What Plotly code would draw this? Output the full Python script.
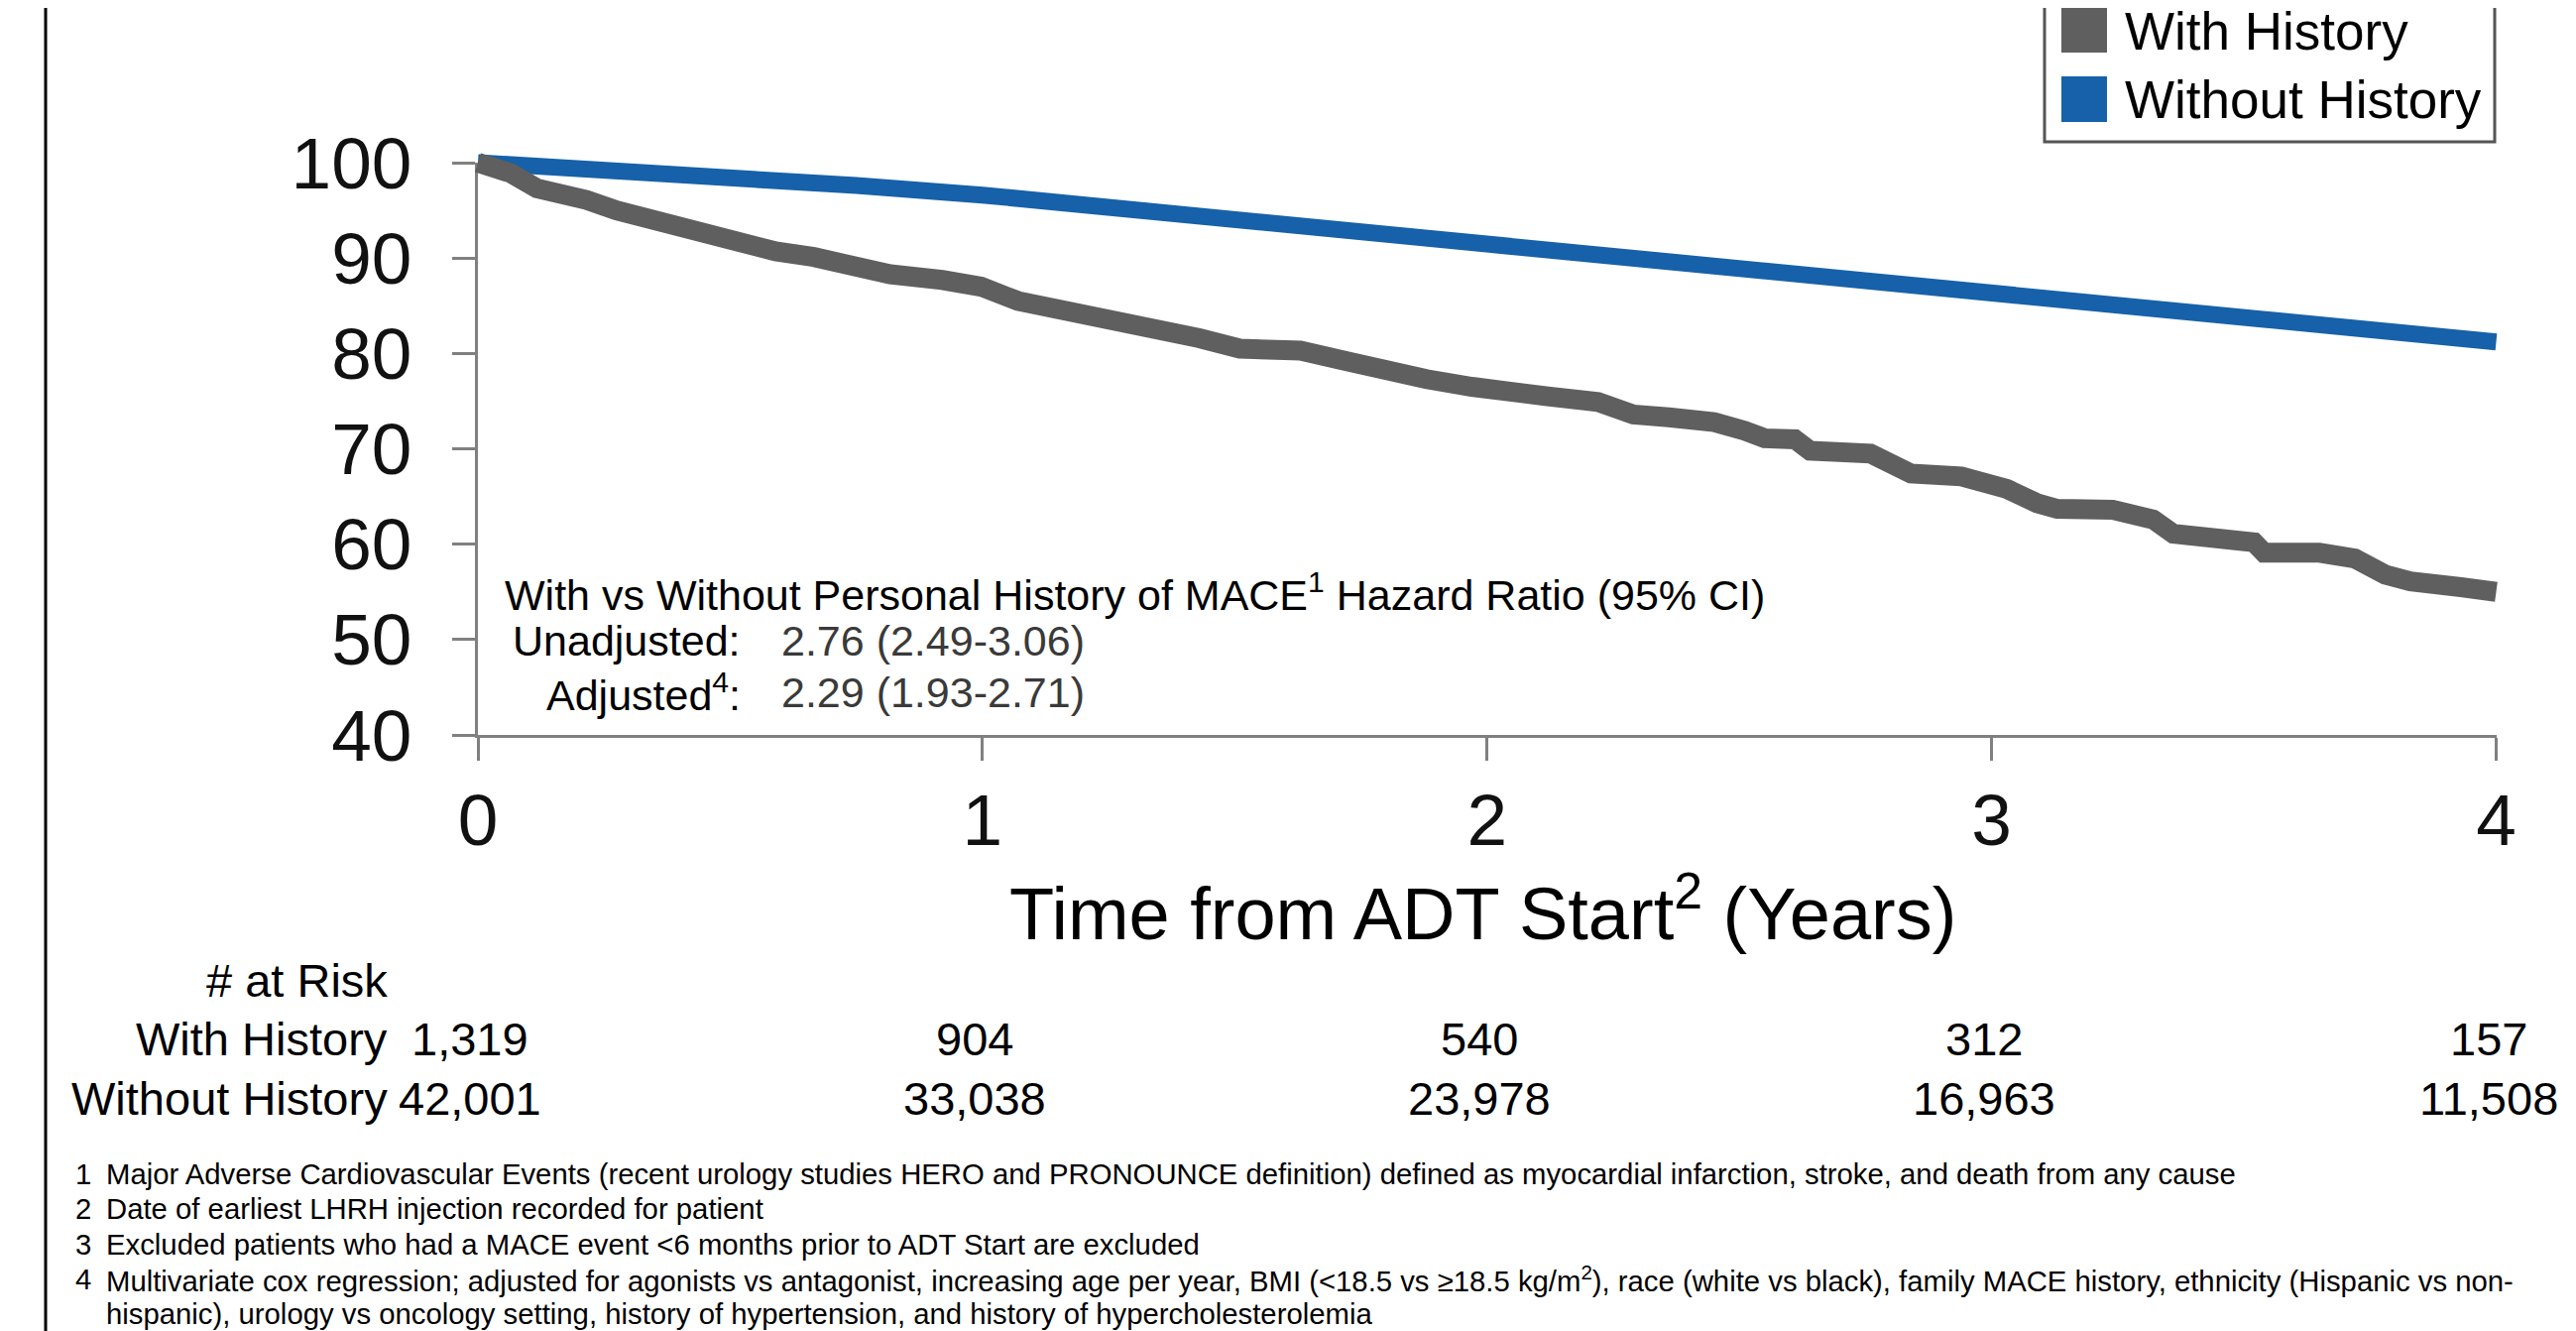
import plotly.graph_objects as go

# ---------------- data ----------------
years_with = [0.00, 0.03, 0.065, 0.117, 0.16, 0.215, 0.275, 0.335, 0.395, 0.456, 0.516, 0.59,
              0.666, 0.741, 0.817, 0.92, 0.997, 1.07, 1.16, 1.25, 1.34, 1.43, 1.51, 1.63,
              1.72, 1.79, 1.88, 1.97, 2.01, 2.04, 2.12, 2.22, 2.29, 2.36, 2.45, 2.51, 2.55,
              2.61, 2.64, 2.76, 2.79, 2.84, 2.94, 2.98, 3.03, 3.09, 3.13, 3.24, 3.32, 3.36,
              3.45, 3.52, 3.54, 3.65, 3.72, 3.78, 3.83, 3.90, 3.93, 4.00]
surv_with = [100.0, 99.4, 98.9, 97.3, 97.0, 96.1, 95.0, 94.2, 93.1, 92.6, 91.8, 90.7,
             90.1, 89.0, 88.3, 87.7, 87.0, 85.5, 84.6, 83.8, 82.7, 81.6, 80.5, 80.3,
             79.2, 78.2, 77.3, 76.5, 76.2, 75.6, 75.5, 74.9, 73.6, 73.3, 72.8, 71.9, 71.1,
             71.0, 69.8, 69.5, 68.9, 67.4, 67.1, 66.5, 65.8, 64.3, 63.7, 63.6, 62.6, 61.1,
             60.4, 60.2, 59.1, 59.1, 58.5, 56.8, 56.1, 56.0, 55.5, 55.0]

years_without = [0.0, 0.25, 0.5, 0.75, 1.0, 1.25, 1.5, 1.75, 2.0, 2.25, 2.5, 2.75, 3.0,
                 3.25, 3.5, 3.75, 4.0]
surv_without = [100.0, 99.3, 98.4, 97.6, 96.6, 95.3, 94.0, 92.9, 91.7, 90.4, 89.1, 87.8,
                86.4, 85.1, 83.8, 82.5, 81.2]

series_names = ["With History", "Without History"]
risk_times = [0, 1, 2, 3, 4]
risk_with = ["1,319", "904", "540", "312", "157"]
risk_without = ["42,001", "33,038", "23,978", "16,963", "11,508"]
x_ticks = [0, 1, 2, 3, 4]
y_ticks = [40, 50, 60, 70, 80, 90, 100]

hr_title = "With vs Without Personal History of MACE<sup>1</sup> Hazard Ratio (95% CI)"
hr_labels = ["Unadjusted:", "Adjusted<sup>4</sup>:"]
hr_values = ["2.76 (2.49-3.06)", "2.29 (1.93-2.71)"]

footnote_nums = ["1", "2", "3", "4", ""]
footnote_texts = [
    "Major Adverse Cardiovascular Events (recent urology studies HERO and PRONOUNCE definition) defined as myocardial infarction, stroke, and death from any cause",
    "Date of earliest LHRH injection recorded for patient",
    "Excluded patients who had a MACE event <6 months prior to ADT Start are excluded",
    "Multivariate cox regression; adjusted for agonists vs antagonist, increasing age per year, BMI (<18.5 vs \u226518.5 kg/m<sup>2</sup>), race (white vs black), family MACE history, ethnicity (Hispanic vs non-",
    "hispanic), urology vs oncology setting, history of hypertension, and history of hypercholesterolemia",
]

# ---------------- style / layout ----------------
PAGE_W, PAGE_H = 2598, 1342
OFF = 8                       # default page body margin
W, H = PAGE_W - OFF, PAGE_H - OFF
FONT = "Liberation Sans, Arial, Helvetica, sans-serif"
GRAY = "#5f5f5f"
BLUE = "#1661a9"
AXIS = "#808080"

X0_PX, X4_PX = 482.0, 2517.5   # page pixel x of year 0 and year 4
YT_PX, YB_PX = 164.0, 741.0    # page pixel y of 100 and 40
PAD = 30.0                     # extra room for the thick lines


def px(x):
    return (x - OFF) / W


def py(y):
    return 1 - (y - OFF) / H


x_per = (X4_PX - X0_PX) / (x_ticks[-1] - x_ticks[0])
y_per = (YB_PX - YT_PX) / (y_ticks[-1] - y_ticks[0])

fig = go.Figure()

# data traces on an invisible, slightly larger subplot with identical scaling
fig.add_trace(go.Scatter(x=years_without, y=surv_without, mode="lines", name=series_names[1],
                         line=dict(color=BLUE, width=17), xaxis="x2", yaxis="y2",
                         showlegend=False))
fig.add_trace(go.Scatter(x=years_with, y=surv_with, mode="lines", name=series_names[0],
                         line=dict(color=GRAY, width=20), xaxis="x2", yaxis="y2",
                         showlegend=False))

tickfont = dict(family=FONT, size=73, color="#111111")

fig.update_layout(
    template="none",
    width=W, height=H, autosize=False,
    margin=dict(l=0, r=0, t=0, b=0, pad=0),
    paper_bgcolor="white", plot_bgcolor="rgba(0,0,0,0)",
    font=dict(family=FONT, color="black"),
    showlegend=False,
    xaxis=dict(domain=[px(X0_PX), px(X4_PX)], range=[x_ticks[0], x_ticks[-1]],
               tickvals=x_ticks, ticks="outside", ticklen=23, tickwidth=2.5, tickcolor=AXIS,
               showline=True, linecolor=AXIS, linewidth=3, showgrid=False, zeroline=False,
               tickfont=tickfont, ticklabelstandoff=-3, anchor="y", fixedrange=True,
               automargin=False),
    yaxis=dict(domain=[py(YB_PX), py(YT_PX)], range=[y_ticks[0], y_ticks[-1]],
               tickvals=y_ticks, ticks="outside", ticklen=23, tickwidth=2.5, tickcolor=AXIS,
               showline=True, linecolor=AXIS, linewidth=3, showgrid=False, zeroline=False,
               tickfont=tickfont, ticklabelstandoff=26, anchor="x", fixedrange=True,
               automargin=False),
    xaxis2=dict(domain=[px(X0_PX - PAD), px(X4_PX + PAD)],
                range=[x_ticks[0] - PAD / x_per, x_ticks[-1] + PAD / x_per],
                visible=False, anchor="y2", fixedrange=True, automargin=False),
    yaxis2=dict(domain=[py(YB_PX + PAD), py(YT_PX - PAD)],
                range=[y_ticks[0] - PAD / y_per, y_ticks[-1] + PAD / y_per],
                visible=False, anchor="x2", fixedrange=True, automargin=False),
)

ann = []
# axis title
ann.append(dict(text="Time from ADT Start<sup>2</sup> (Years)", x=px(1495), y=py(916),
                xref="paper", yref="paper", xanchor="center", yanchor="middle",
                showarrow=False, font=dict(size=74, family=FONT, color="black")))

# hazard ratio block
HR_FONT = 43
ann.append(dict(text=hr_title, x=px(507), y=py(597), xref="paper", yref="paper",
                xanchor="left", yanchor="middle", showarrow=False,
                font=dict(size=HR_FONT, family=FONT, color="black")))
for i, (lab, val) in enumerate(zip(hr_labels, hr_values)):
    yy = [646, 698][i]
    ann.append(dict(text=lab, x=px(749), y=py(yy), xref="paper", yref="paper",
                    xanchor="right", yanchor="middle", showarrow=False,
                    font=dict(size=HR_FONT, family=FONT, color="black")))
    ann.append(dict(text=val, x=px(786), y=py(yy), xref="paper", yref="paper",
                    xanchor="left", yanchor="middle", showarrow=False,
                    font=dict(size=HR_FONT, family=FONT, color="#3a3a3a")))

# number at risk table
RISK_FONT = dict(size=47, family=FONT, color="black")
ann.append(dict(text="# at Risk", x=px(393), y=py(988), xref="paper", yref="paper",
                xanchor="right", yanchor="middle", showarrow=False, font=RISK_FONT))
for name, vals, yy in [(series_names[0], risk_with, 1047), (series_names[1], risk_without, 1107)]:
    ann.append(dict(text=name, x=px(393), y=py(yy), xref="paper", yref="paper",
                    xanchor="right", yanchor="middle", showarrow=False, font=RISK_FONT))
    for t, v in zip(risk_times, vals):
        ann.append(dict(text=v, x=t, y=py(yy), xref="x", yref="paper",
                        xanchor="center", yanchor="middle", showarrow=False, font=RISK_FONT,
                        xshift=-8))

# footnotes
FN_FONT = dict(size=29.3, family=FONT, color="black")
fn_y = [1183, 1218, 1254, 1289, 1324]
for n, t, yy in zip(footnote_nums, footnote_texts, fn_y):
    if n:
        ann.append(dict(text=n, x=px(84), y=py(yy), xref="paper", yref="paper",
                        xanchor="center", yanchor="middle", showarrow=False, font=FN_FONT))
    ann.append(dict(text=t, x=px(105), y=py(yy), xref="paper", yref="paper",
                    xanchor="left", yanchor="middle", showarrow=False, font=FN_FONT))

# legend (drawn manually to get the large square keys)
LEG_FONT = dict(size=53, family=FONT, color="black")
for name, col, yy in [(series_names[0], GRAY, 31), (series_names[1], BLUE, 100)]:
    ann.append(dict(text=name, x=px(2141), y=py(yy), xref="paper", yref="paper",
                    xanchor="left", yanchor="middle", showarrow=False, font=LEG_FONT))

shapes = []
shapes.append(dict(type="rect", xref="paper", yref="paper", x0=px(2062), x1=px(2516),
                   y0=py(143), y1=py(-30), line=dict(color="#555555", width=3),
                   fillcolor="rgba(0,0,0,0)"))
for col, yy in [(GRAY, 30), (BLUE, 100)]:
    shapes.append(dict(type="rect", xref="paper", yref="paper", x0=px(2079), x1=px(2125),
                       y0=py(yy + 23), y1=py(yy - 23), line=dict(width=0), fillcolor=col))
# slide border at the left edge
shapes.append(dict(type="line", xref="paper", yref="paper", x0=px(46), x1=px(46),
                   y0=py(PAGE_H + 20), y1=py(-20), line=dict(color="black", width=3)))

fig.update_layout(annotations=ann, shapes=shapes)

fig.write_html("out.html")
